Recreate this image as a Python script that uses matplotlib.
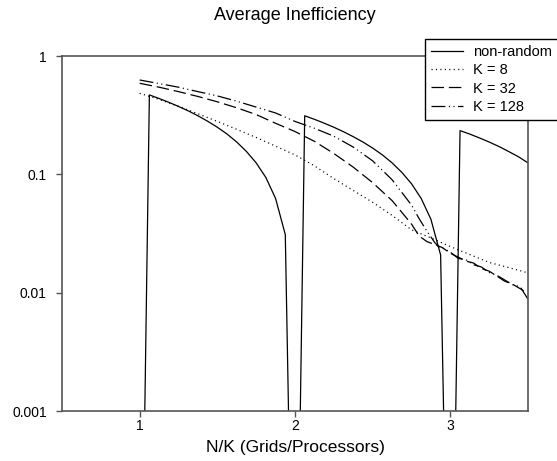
import matplotlib
matplotlib.use("Agg")
import matplotlib.pyplot as plt

plt.rcParams['font.family'] = ['Liberation Sans', 'DejaVu Sans']
plt.rcParams['lines.scale_dashes'] = False

# ---- data ----
nr_x = [1.0, 1.0625, 1.125, 1.1875, 1.25, 1.3125, 1.375, 1.4375, 1.5, 1.5625,
        1.625, 1.6875, 1.75, 1.8125, 1.875, 1.9375, 2.0, 2.0625, 2.125, 2.1875,
        2.25, 2.3125, 2.375, 2.4375, 2.5, 2.5625, 2.625, 2.6875, 2.75, 2.8125,
        2.875, 2.9375, 3.0, 3.0625, 3.125, 3.1875, 3.25, 3.3125, 3.375, 3.4375, 3.5]
nr_y = [1e-6, 0.469, 0.4375, 0.406, 0.375, 0.344, 0.3125, 0.281, 0.25, 0.219,
        0.1875, 0.156, 0.125, 0.094, 0.0625, 0.031, 1e-6, 0.3125, 0.2917, 0.2708,
        0.25, 0.229, 0.208, 0.1875, 0.1667, 0.146, 0.125, 0.104, 0.0833, 0.0625,
        0.0417, 0.0208, 1e-6, 0.234, 0.219, 0.203, 0.1875, 0.172, 0.156, 0.141, 0.125]

k8_x = [1.0, 1.125, 1.25, 1.375, 1.5, 1.625, 1.75, 1.875, 2.0, 2.125, 2.25,
        2.375, 2.5, 2.625, 2.75, 2.875, 3.0, 3.125, 3.25, 3.375, 3.5]
k8_y = [0.484, 0.43, 0.375, 0.325, 0.28, 0.24, 0.205, 0.173, 0.146, 0.118, 0.092,
        0.073, 0.058, 0.045, 0.034, 0.029, 0.0245, 0.021, 0.018, 0.0163, 0.0147]

k32_x = [1.0, 1.125, 1.25, 1.375, 1.5, 1.625, 1.75, 1.875, 2.0, 2.125, 2.25,
         2.375, 2.5, 2.625, 2.75, 2.8, 2.85, 2.9, 2.95, 3.0, 3.05, 3.1, 3.15,
         3.2, 3.25, 3.3, 3.35, 3.4, 3.45, 3.5]
k32_y = [0.588, 0.545, 0.5, 0.455, 0.41, 0.365, 0.32, 0.27, 0.23, 0.19, 0.15,
         0.115, 0.085, 0.06, 0.038, 0.030, 0.027, 0.0255, 0.024, 0.0215, 0.020,
         0.0185, 0.0178, 0.016, 0.0152, 0.0138, 0.0125, 0.0118, 0.0108, 0.0098]

k128_x = [1.0, 1.125, 1.25, 1.375, 1.5, 1.625, 1.75, 1.875, 2.0, 2.125, 2.25,
          2.375, 2.5, 2.625, 2.75, 2.8, 2.85, 2.9, 2.93, 2.96, 3.0, 3.05, 3.1,
          3.15, 3.2, 3.25, 3.3, 3.35, 3.4, 3.45, 3.5]
k128_y = [0.627, 0.585, 0.545, 0.5, 0.46, 0.415, 0.37, 0.33, 0.28, 0.245, 0.21,
          0.17, 0.13, 0.09, 0.055, 0.042, 0.033, 0.0265, 0.024, 0.0235, 0.022,
          0.0195, 0.019, 0.0172, 0.0165, 0.0148, 0.0140, 0.0128, 0.0117, 0.0112, 0.0088]

labels = ['non-random', 'K = 8', 'K = 32', 'K = 128']
xticks = [1, 2, 3]
yticks = [0.001, 0.01, 0.1, 1]
yticklabels = ['0.001', '0.01', '0.1', '1']

# ---- figure ----
W, H = 557, 461
fig = plt.figure(figsize=(W / 100, H / 100), dpi=100)
ax = fig.add_axes([62 / W, 1 - 411 / H, (528 - 62) / W, (411 - 56) / H])

lw = 0.9
ax.plot(nr_x, nr_y, color='black', lw=lw, label=labels[0])
ax.plot(k8_x, k8_y, color='black', lw=lw, linestyle=(0, (0.8, 2.4)), label=labels[1])
ax.plot(k32_x, k32_y, color='black', lw=lw, linestyle=(0, (9, 3.5)), label=labels[2])
ax.plot(k128_x, k128_y, color='black', lw=lw,
        linestyle=(0, (10, 2.5, 0.8, 2.5, 0.8, 2.5)), label=labels[3])

ax.set_yscale('log')
ax.set_xlim(0.5, 3.5)
ax.set_ylim(0.001, 1)
ax.set_xticks(xticks)
ax.set_xticklabels([str(t) for t in xticks])
ax.set_yticks(yticks)
ax.set_yticklabels(yticklabels)
ax.minorticks_off()
ax.tick_params(axis='both', direction='out', length=4, width=1, colors='#555555',
               labelcolor='black', labelsize=10)
ax.tick_params(axis='y', pad=7)
ax.tick_params(axis='x', pad=1.5)
for s in ax.spines.values():
    s.set_color('#555555')
    s.set_linewidth(1.2)

ax.set_title('Average Inefficiency', fontsize=13, pad=26)
ax.set_xlabel('N/K (Grids/Processors)', fontsize=12.5, labelpad=5)

leg = ax.legend(loc='upper left', bbox_to_anchor=(425 / W, 1 - 39 / H),
                bbox_transform=fig.transFigure, borderaxespad=0, fontsize=10.5,
                frameon=True, fancybox=False, edgecolor='black', framealpha=1,
                handlelength=2.2, handletextpad=0.7, labelspacing=0.3,
                borderpad=0.4)
leg.get_frame().set_linewidth(1.0)

fig.savefig('out.png', dpi=100)
